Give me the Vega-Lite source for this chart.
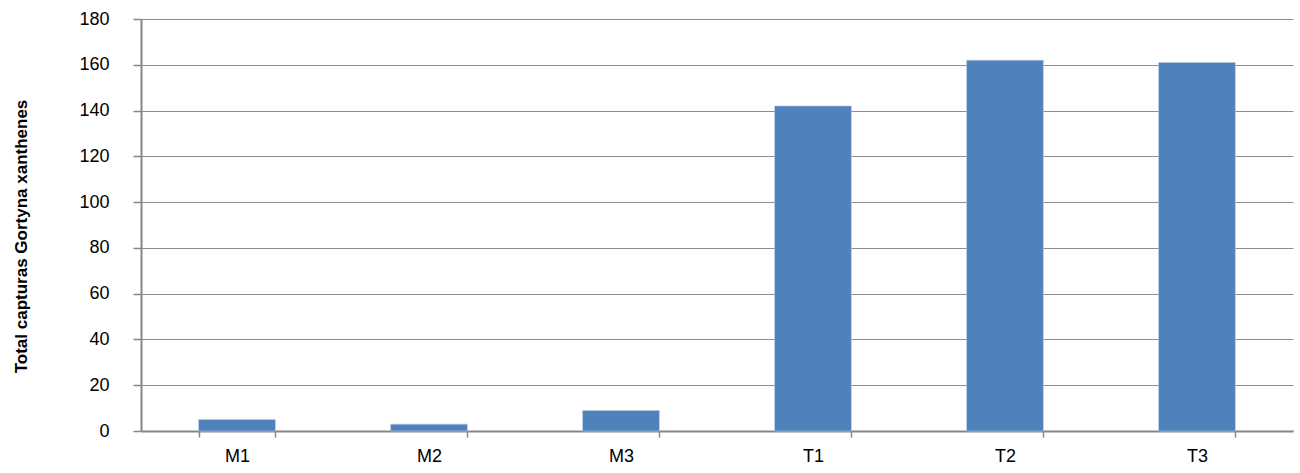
{
  "$schema": "https://vega.github.io/schema/vega-lite/v6.json",
  "autosize": "none",
  "padding": {"left": 141, "top": 19, "right": 7, "bottom": 42},
  "width": 1152,
  "height": 412,
  "background": "white",
  "config": {
    "view": {"stroke": null},
    "font": "Liberation Sans",
    "axis": {
      "labelFont": "Liberation Sans",
      "labelFontSize": 18,
      "labelColor": "#000000",
      "domainColor": "#868686",
      "domainWidth": 2,
      "tickColor": "#868686",
      "tickWidth": 1.5,
      "tickSize": 8,
      "gridColor": "#8c8c8c",
      "gridWidth": 1
    }
  },
  "data": {
    "values": [
      {"sitio": "M1", "total": 5},
      {"sitio": "M2", "total": 3},
      {"sitio": "M3", "total": 9},
      {"sitio": "T1", "total": 142},
      {"sitio": "T2", "total": 162},
      {"sitio": "T3", "total": 161}
    ]
  },
  "mark": {"type": "bar", "color": "#4F81BD", "stroke": "#b9cde5", "strokeWidth": 0.6},
  "encoding": {
    "x": {
      "field": "sitio",
      "type": "nominal",
      "sort": null,
      "scale": {"paddingInner": 0.6, "paddingOuter": 0.3},
      "axis": {
        "title": null,
        "labelAngle": 0,
        "labelPadding": 10,
        "tickBand": "extent",
        "tickSize": 6,
        "grid": false
      }
    },
    "y": {
      "field": "total",
      "type": "quantitative",
      "scale": {"domain": [0, 180], "nice": false},
      "axis": {
        "values": [0, 20, 40, 60, 80, 100, 120, 140, 160, 180],
        "title": "Total capturas Gortyna xanthenes",
        "titleFont": "Liberation Sans",
        "titleFontSize": 17,
        "titleFontWeight": "bold",
        "titleColor": "#000000",
        "titlePadding": 48,
        "titleY": 217,
        "labelPadding": 24,
        "grid": true
      }
    }
  }
}
